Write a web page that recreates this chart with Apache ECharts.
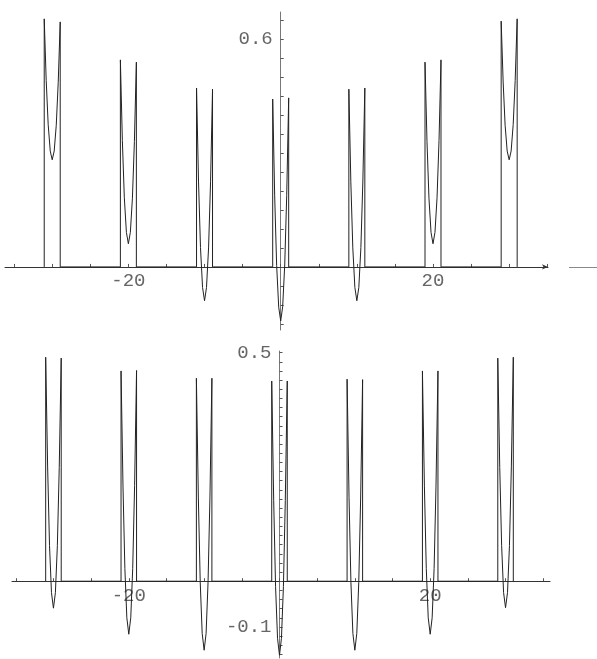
<!DOCTYPE html>
<html>
<head>
<meta charset="utf-8">
<script src="https://cdn.jsdelivr.net/npm/echarts@6/dist/echarts.min.js"></script>
<style>
  html, body { margin: 0; padding: 0; background: #fff; }
  #chart { width: 597px; height: 659px; }
</style>
</head>
<body>
<div id="chart"></div>
<script>
// well centres (same for both panels)
var wellCenters = [-30, -20, -10, 0, 10, 20, 30];

// x offsets from the centre of each well
var topOffsets = [-1.05, -0.79, -0.53, -0.26, 0, 0.26, 0.53, 0.79, 1.05];
var bottomOffsets = [-1.03, -0.77, -0.52, -0.26, 0, 0.26, 0.52, 0.77, 1.03];

// upper panel: curve values at those offsets, one row per well
var topWells = [
  [0.653, 0.491, 0.375, 0.305, 0.282, 0.305, 0.373, 0.486, 0.645],
  [0.545, 0.333, 0.182, 0.091, 0.061, 0.091, 0.181, 0.330, 0.539],
  [0.471, 0.226, 0.051, -0.054, -0.089, -0.054, 0.050, 0.224, 0.468],
  [0.442, 0.187, 0.004, -0.106, -0.142, -0.105, 0.005, 0.188, 0.445],
  [0.468, 0.224, 0.050, -0.054, -0.089, -0.054, 0.051, 0.226, 0.471],
  [0.539, 0.330, 0.181, 0.091, 0.061, 0.091, 0.182, 0.333, 0.545],
  [0.647, 0.487, 0.373, 0.305, 0.282, 0.305, 0.375, 0.491, 0.653]
];

// lower panel
var bottomWells = [
  [0.490, 0.250, 0.078, -0.025, -0.059, -0.025, 0.078, 0.249, 0.488],
  [0.460, 0.208, 0.028, -0.080, -0.116, -0.080, 0.028, 0.209, 0.461],
  [0.444, 0.184, -0.002, -0.114, -0.151, -0.114, -0.002, 0.184, 0.444],
  [0.438, 0.176, -0.012, -0.125, -0.162, -0.125, -0.012, 0.176, 0.438],
  [0.442, 0.183, -0.003, -0.114, -0.151, -0.114, -0.003, 0.182, 0.441],
  [0.460, 0.208, 0.028, -0.080, -0.116, -0.080, 0.028, 0.208, 0.460],
  [0.488, 0.249, 0.078, -0.025, -0.058, -0.025, 0.078, 0.250, 0.490]
];

// ticks and labels
var xTicks = [-35, -30, -25, -20, -15, -10, -5, 0, 5, 10, 15, 20, 25, 30, 35];
var xLabels = [-20, 20];
var topYTicks = [-0.15, -0.1, -0.05, 0, 0.05, 0.1, 0.15, 0.2, 0.25, 0.3, 0.35, 0.4, 0.45, 0.5, 0.55, 0.6, 0.65];
var topYLabels = [0.6];
var bottomYTicks = [-0.16, -0.14, -0.12, -0.1, -0.08, -0.06, -0.04, -0.02, 0, 0.02, 0.04, 0.06, 0.08, 0.1,
  0.12, 0.14, 0.16, 0.18, 0.2, 0.22, 0.24, 0.26, 0.28, 0.3, 0.32, 0.34, 0.36, 0.38, 0.4, 0.42, 0.44, 0.46, 0.48, 0.5];
var bottomYLabels = [0.5, -0.1];

function buildLine(offsets, wells) {
  var pts = [];
  wellCenters.forEach(function (c, i) {
    pts.push([c + offsets[0], 0]);
    offsets.forEach(function (o, j) {
      pts.push([c + o, wells[i][j]]);
    });
    pts.push([c + offsets[offsets.length - 1], 0]);
  });
  return pts;
}

var labelFont = {
  fontFamily: "Liberation Mono",
  fontSize: 19,
  color: "#666"
};

function xAxisCfg(idx, min, max, arrow) {
  return {
    type: "value",
    gridIndex: idx,
    min: min,
    max: max,
    splitLine: { show: false },
    axisLine: {
      onZero: false,
      symbol: arrow ? ["none", "arrow"] : ["none", "none"],
      symbolSize: [4, 6],
      lineStyle: { color: "#333", width: 1 }
    },
    axisTick: {
      inside: true,
      length: 3,
      customValues: xTicks,
      lineStyle: { color: "#555" }
    },
    axisLabel: Object.assign({
      margin: 5,
      customValues: xLabels,
      formatter: function (v) { return String(v); }
    }, labelFont)
  };
}

function yAxisCfg(idx, min, max, ticks, labels) {
  return {
    type: "value",
    gridIndex: idx,
    min: min,
    max: max,
    splitLine: { show: false },
    axisLine: {
      onZero: false,
      lineStyle: { color: "#777", width: 1 }
    },
    axisTick: {
      inside: true,
      length: 3,
      customValues: ticks,
      lineStyle: { color: "#555" }
    },
    axisLabel: Object.assign({
      margin: 8,
      customValues: labels,
      formatter: function (v) { return String(v); }
    }, labelFont)
  };
}

var grids = [
  { left: 5, top: 12, width: 543, height: 318, outerBoundsMode: "none" },
  { left: 12, top: 351, width: 538, height: 307, outerBoundsMode: "none" }
];

var myChart = echarts.init(document.getElementById("chart"));
var option = {
  animation: false,
  backgroundColor: "#fff",
  grid: grids,
  xAxis: [
    xAxisCfg(0, -36.2, 35.1, true),
    xAxisCfg(1, -35.5, 35.9, false)
  ],
  yAxis: [
    yAxisCfg(0, -0.166, 0.671, topYTicks, topYLabels),
    yAxisCfg(1, -0.168, 0.5036, bottomYTicks, bottomYLabels)
  ],
  graphic: [
    {
      // stray dash right of the upper axis
      type: "line",
      shape: { x1: 569, y1: 267.5, x2: 597, y2: 267.5 },
      style: { stroke: "#888", lineWidth: 1 }
    }
  ],
  series: [
    {
      type: "line",
      xAxisIndex: 0,
      yAxisIndex: 0,
      data: buildLine(topOffsets, topWells),
      showSymbol: false,
      lineStyle: { color: "#222", width: 1 }
    },
    {
      type: "line",
      xAxisIndex: 1,
      yAxisIndex: 1,
      data: buildLine(bottomOffsets, bottomWells),
      showSymbol: false,
      lineStyle: { color: "#222", width: 1 }
    }
  ]
};
myChart.setOption(option);

// move the axes (line, ticks and labels together) onto the origin
var xOff = [], yOff = [];
grids.forEach(function (g, i) {
  var p = myChart.convertToPixel({ gridIndex: i }, [0, 0]);
  xOff.push({ offset: -((g.top + g.height) - p[1]) });
  yOff.push({ offset: -(p[0] - g.left) });
});
myChart.setOption({ xAxis: xOff, yAxis: yOff });

window.addEventListener("resize", function () {
  myChart.resize();
});
</script>
</body>
</html>
